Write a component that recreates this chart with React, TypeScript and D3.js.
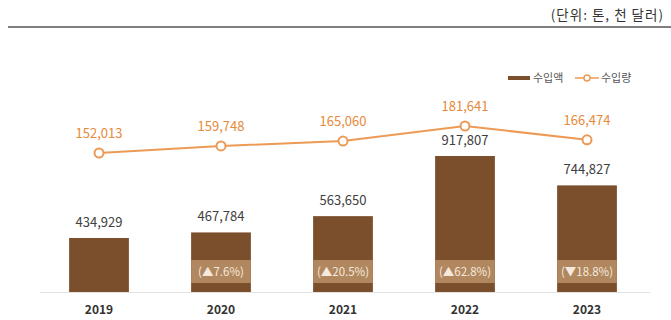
import React from "react";
import * as d3 from "d3";

const years = ["2019", "2020", "2021", "2022", "2023"];
const importValue = [434929, 467784, 563650, 917807, 744827];
const importVolume = [152013, 159748, 165060, 181641, 166474];
const changeLabels = ["", "(▲7.6%)", "(▲20.5%)", "(▲62.8%)", "(▼18.8%)"];
const unitLabel = "(단위: 톤, 천 달러)";
const legendLabels = ["수입액", "수입량"];

const W = 671;
const H = 320;
const FONT = "'Noto Sans CJK KR', 'Noto Sans', sans-serif";
const BAR = "#7b4f2c";
const BAND = "#b0875f";
const ORANGE = "#ec9a55";
const ORANGE_TXT = "#e8893a";

export default function App() {
  const x = d3.scaleBand().domain(years).range([38, 648]).paddingInner(0.51).paddingOuter(0.255);
  const yBar = d3.scaleLinear().domain([117000, 917807]).range([292, 156]);
  const yLine = d3.scaleLinear().domain([152013, 181641]).range([153, 126]);
  const cx = (y: string) => (x(y) as number) + x.bandwidth() / 2;

  const line = d3
    .line<number>()
    .x((_, i) => cx(years[i]))
    .y((d) => yLine(d));

  return (
    <svg width={W} height={H} style={{ position: "absolute", left: 0, top: 0, background: "#fff" }} fontFamily={FONT}>
      <text x={664} y={20} textAnchor="end" fontSize={13.5} letterSpacing={1} fill="#333">{unitLabel}</text>
      <line x1={8} x2={671} y1={27} y2={27} stroke="#555" strokeWidth={1.5} />

      {/* legend */}
      <rect x={508} y={76} width={22} height={4} fill={BAR} />
      <text x={533} y={82} fontSize={11} fill="#555">{legendLabels[0]}</text>
      <line x1={575} x2={599} y1={78} y2={78} stroke={ORANGE} strokeWidth={1.5} />
      <circle cx={587} cy={78} r={3} fill="#fff" stroke={ORANGE} strokeWidth={1.5} />
      <text x={601} y={82} fontSize={11} fill="#555">{legendLabels[1]}</text>

      {/* axis */}
      <line x1={40} x2={650} y1={292.5} y2={292.5} stroke="#e2e2e2" strokeWidth={1} />

      {years.map((yr, i) => {
        const bx = x(yr) as number;
        const top = yBar(importValue[i]);
        return (
          <g key={yr}>
            <rect x={bx} y={top} width={x.bandwidth()} height={292 - top} fill={BAR} />
            {changeLabels[i] && (
              <>
                <rect x={bx} y={260} width={x.bandwidth()} height={23} fill={BAND} />
                <text x={cx(yr)} y={275.5} textAnchor="middle" fontSize={11.5} fill="#f6e9dc">
                  {changeLabels[i]}
                </text>
              </>
            )}
            <text x={cx(yr)} y={top - 11} textAnchor="middle" fontSize={13} fill="#404040">
              {d3.format(",")(importValue[i])}
            </text>
            <text x={cx(yr)} y={314} textAnchor="middle" fontSize={12} fontWeight="bold" fill="#333">
              {yr}
            </text>
          </g>
        );
      })}

      <path d={line(importVolume) as string} fill="none" stroke={ORANGE} strokeWidth={2} />
      {importVolume.map((v, i) => (
        <g key={i}>
          <circle cx={cx(years[i])} cy={yLine(v)} r={4.5} fill="#fff" stroke={ORANGE} strokeWidth={2} />
          <text x={cx(years[i])} y={yLine(v) - 15} textAnchor="middle" fontSize={13} fill={ORANGE_TXT}>
            {d3.format(",")(v)}
          </text>
        </g>
      ))}
    </svg>
  );
}
